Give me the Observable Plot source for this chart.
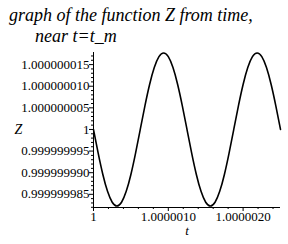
<!DOCTYPE html>
<html>
<head>
<meta charset="utf-8">
<script src="https://cdn.jsdelivr.net/npm/d3@7"></script>
<script src="https://cdn.jsdelivr.net/npm/@observablehq/plot@0.6"></script>
<style>
  html, body { margin: 0; padding: 0; background: #fff; }
  #wrap { position: relative; width: 288px; height: 244px; overflow: hidden; }
  #title { position: absolute; left: 9px; top: 5px; font-family: "Liberation Serif", "Times New Roman", Times, serif; font-style: italic; font-size: 18px; line-height: 21px; color: #000; white-space: nowrap; z-index: 2; }
  #title .l2 { padding-left: 26px; }
  svg { position: absolute; left: 0; top: 0; }
</style>
</head>
<body>
<div id="wrap">
  <div id="title"><div>graph of the function Z from time,</div><div class="l2">near t=t_m</div></div>
</div>
<script>
// time values (t)
const tValues = [1, 1.0000000625, 1.000000125, 1.0000001875, 1.00000025, 1.0000003125, 1.000000375, 1.0000004375, 1.0000005, 1.0000005625,
  1.000000625, 1.0000006875, 1.00000075, 1.0000008125, 1.000000875, 1.0000009375, 1.000001, 1.0000010625, 1.000001125, 1.0000011875,
  1.00000125, 1.0000013125, 1.000001375, 1.0000014375, 1.0000015, 1.0000015625, 1.000001625, 1.0000016875, 1.00000175, 1.0000018125,
  1.000001875, 1.0000019375, 1.000002, 1.0000020625, 1.000002125, 1.0000021875, 1.00000225, 1.0000023125, 1.000002375, 1.0000024375, 1.0000025];
// Z values
const zValues = [1, 0.99999999453, 0.99999998959, 0.99999998568, 0.99999998317, 0.9999999823, 0.99999998317, 0.99999998568, 0.99999998959, 0.99999999453,
  1, 1.00000000547, 1.00000001041, 1.00000001432, 1.00000001683, 1.0000000177, 1.00000001683, 1.00000001432, 1.00000001041, 1.00000000547,
  1, 0.99999999453, 0.99999998959, 0.99999998568, 0.99999998317, 0.9999999823, 0.99999998317, 0.99999998568, 0.99999998959, 0.99999999453,
  1, 1.00000000547, 1.00000001041, 1.00000001432, 1.00000001683, 1.0000000177, 1.00000001683, 1.00000001432, 1.00000001041, 1.00000000547, 1];

// axis ticks and labels
const yTicks = [1.000000015, 1.00000001, 1.000000005, 1, 0.999999995, 0.99999999, 0.999999985];
const yTickLabels = ["1.000000015", "1.000000010", "1.000000005", "1", "0.999999995", "0.999999990", "0.999999985"];
const xTicks = [1, 1.000001, 1.000002];
const xTickLabels = ["1", "1.0000010", "1.0000020"];
const yMinorTicks = [0.999999982, 0.999999983, 0.999999984, 0.999999986, 0.999999987, 0.999999988, 0.999999989, 0.999999991, 0.999999992, 0.999999993, 0.999999994,
  0.999999996, 0.999999997, 0.999999998, 0.999999999, 1.000000001, 1.000000002, 1.000000003, 1.000000004, 1.000000006, 1.000000007, 1.000000008, 1.000000009,
  1.000000011, 1.000000012, 1.000000013, 1.000000014, 1.000000016, 1.000000017];
const xMinorTicks = [1.0000002, 1.0000004, 1.0000006, 1.0000008, 1.0000012, 1.0000014, 1.0000016, 1.0000018, 1.0000022, 1.0000024];
const xDomain = [1, 1.0000025];
const yDomain = [0.99999998195, 1.0000000178];

const data = tValues.map((t, i) => ({t, z: zValues[i]}));
const font = '"Liberation Serif", "Times New Roman", Times, serif';

const chart = Plot.plot({
  width: 288,
  height: 244,
  marginLeft: 93,
  marginRight: 8,
  marginTop: 52,
  marginBottom: 37,
  style: {fontFamily: font, fontSize: "13px", color: "#000", background: "transparent", overflow: "visible"},
  x: {domain: xDomain, axis: null},
  y: {domain: yDomain, axis: null},
  marks: [
    Plot.axisY({ticks: yMinorTicks, tickSize: 2, tickFormat: () => "", label: null, strokeWidth: 1}),
    Plot.axisY({ticks: yTicks, tickSize: 4, tickPadding: 0, tickFormat: (d) => yTickLabels[yTicks.indexOf(d)], label: null, fill: "#000", fontSize: 13, fontFamily: font, strokeWidth: 1}),
    Plot.axisX({ticks: xMinorTicks, tickSize: 2, tickFormat: () => "", label: null, strokeWidth: 1}),
    Plot.axisX({ticks: xTicks, tickSize: 4, tickPadding: 0, tickFormat: (d) => xTickLabels[xTicks.indexOf(d)], label: null, fill: "#000", fontSize: 13, fontFamily: font, strokeWidth: 1}),
    Plot.ruleX([xDomain[0]], {stroke: "#000", strokeWidth: 1}),
    Plot.ruleY([yDomain[0]], {stroke: "#000", strokeWidth: 1}),
    Plot.line(data, {x: "t", y: "z", curve: "natural", stroke: "#000", strokeWidth: 1.6}),
    Plot.text(["Z"], {frameAnchor: "left", dx: -79, fontStyle: "italic", fontSize: 14, fontFamily: font, fill: "#000"}),
    Plot.text(["t"], {frameAnchor: "bottom", dy: 27, fontStyle: "italic", fontSize: 13, fontFamily: font, fill: "#000"})
  ]
});
document.getElementById("wrap").appendChild(chart);
</script>
</body>
</html>
